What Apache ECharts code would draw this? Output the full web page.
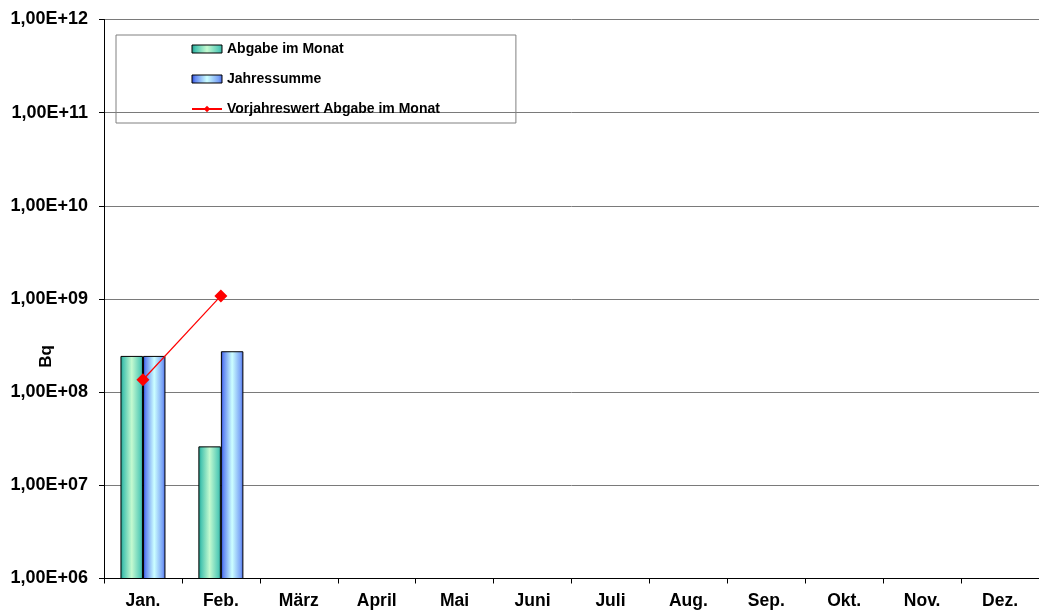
<!DOCTYPE html>
<html>
<head>
<meta charset="utf-8">
<script src="https://cdn.jsdelivr.net/npm/echarts@6/dist/echarts.min.js"></script>
<style>
html,body{margin:0;padding:0;background:#fff;}
#c{width:1039px;height:610px;}
</style>
</head>
<body>
<div id="c"></div>
<script>
const categories = ['Jan.', 'Feb.', 'März', 'April', 'Mai', 'Juni', 'Juli', 'Aug.', 'Sep.', 'Okt.', 'Nov.', 'Dez.'];
const abgabeImMonat = [2.45e8, 2.62e7, null, null, null, null, null, null, null, null, null, null];
const jahressumme = [2.45e8, 2.75e8, null, null, null, null, null, null, null, null, null, null];
const vorjahreswert = [1.36e8, 1.08e9, null, null, null, null, null, null, null, null, null, null];
const yMin = 1e6, yMax = 1e12;
const yAxisName = 'Bq';

const FONT = '"Liberation Sans", Arial, sans-serif';

const greenGrad = new echarts.graphic.LinearGradient(0, 0, 1, 0, [
  {offset: 0, color: '#1f9484'},
  {offset: 0.12, color: '#48c4b0'},
  {offset: 0.5, color: '#c4fad0'},
  {offset: 0.88, color: '#58ccb8'},
  {offset: 1, color: '#34b0a0'}
]);
const blueGrad = new echarts.graphic.LinearGradient(0, 0, 1, 0, [
  {offset: 0, color: '#2040d4'},
  {offset: 0.12, color: '#6488f2'},
  {offset: 0.5, color: '#ccffff'},
  {offset: 0.88, color: '#78a0f6'},
  {offset: 1, color: '#4464e4'}
]);

function fmt(v) {
  const e = Math.round(Math.log10(v));
  return '1,00E+' + (e < 10 ? '0' + e : e);
}

const chart = echarts.init(document.getElementById('c'), null, {renderer: 'canvas'});
chart.setOption({
  animation: false,
  backgroundColor: '#ffffff',
  grid: {left: 104, top: 19.5, width: 943, height: 560, containLabel: false},
  legend: {
    orient: 'vertical',
    left: 116,
    top: 35,
    padding: [6, 76, 6, 75],
    borderColor: '#808080',
    borderWidth: 1,
    itemWidth: 30,
    itemHeight: 8,
    itemGap: 14,
    textStyle: {fontFamily: FONT, fontWeight: 'bold', fontSize: 14, color: '#000', lineHeight: 16},
    data: [
      {name: 'Abgabe im Monat', icon: 'rect', itemStyle: {color: greenGrad, borderColor: '#000', borderWidth: 1}},
      {name: 'Jahressumme', icon: 'rect', itemStyle: {color: blueGrad, borderColor: '#000', borderWidth: 1}},
      {name: 'Vorjahreswert Abgabe im Monat'}
    ]
  },
  xAxis: {
    type: 'category',
    data: categories,
    boundaryGap: true,
    axisLine: {lineStyle: {color: '#000', width: 1}},
    axisTick: {show: true, length: 5, lineStyle: {color: '#000'}},
    axisLabel: {fontFamily: FONT, fontWeight: 'bold', fontSize: 17.5, color: '#000', margin: 13.5, interval: 0},
    splitLine: {show: false}
  },
  yAxis: {
    type: 'log',
    logBase: 10,
    min: yMin,
    max: yMax,
    axisLine: {show: true, lineStyle: {color: '#000', width: 1}},
    axisTick: {show: true, length: 5, lineStyle: {color: '#000'}},
    axisLabel: {fontFamily: FONT, fontWeight: 'bold', fontSize: 18, color: '#000', margin: 16, formatter: fmt},
    splitLine: {show: true, lineStyle: {color: '#7a7a7a', width: 1}},
    minorTick: {show: false},
    minorSplitLine: {show: false}
  },
  graphic: [{
    type: 'text',
    left: 38,
    top: 345,
    rotation: Math.PI / 2,
    style: {text: yAxisName, font: 'bold 17px ' + FONT, fill: '#000'}
  }],
  series: [
    {
      name: 'Abgabe im Monat',
      type: 'bar',
      data: abgabeImMonat,
      barWidth: 22.5,
      barGap: '0%',
      itemStyle: {color: greenGrad, borderColor: '#000', borderWidth: 1}
    },
    {
      name: 'Jahressumme',
      type: 'bar',
      data: jahressumme,
      barWidth: 22.5,
      barGap: '0%',
      itemStyle: {color: blueGrad, borderColor: '#000', borderWidth: 1}
    },
    {
      name: 'Vorjahreswert Abgabe im Monat',
      type: 'line',
      data: vorjahreswert,
      symbol: 'diamond',
      symbolSize: 13,
      connectNulls: false,
      lineStyle: {color: '#ff0000', width: 1.2},
      itemStyle: {color: '#ff0000'},
      z: 5
    }
  ]
});
</script>
</body>
</html>
